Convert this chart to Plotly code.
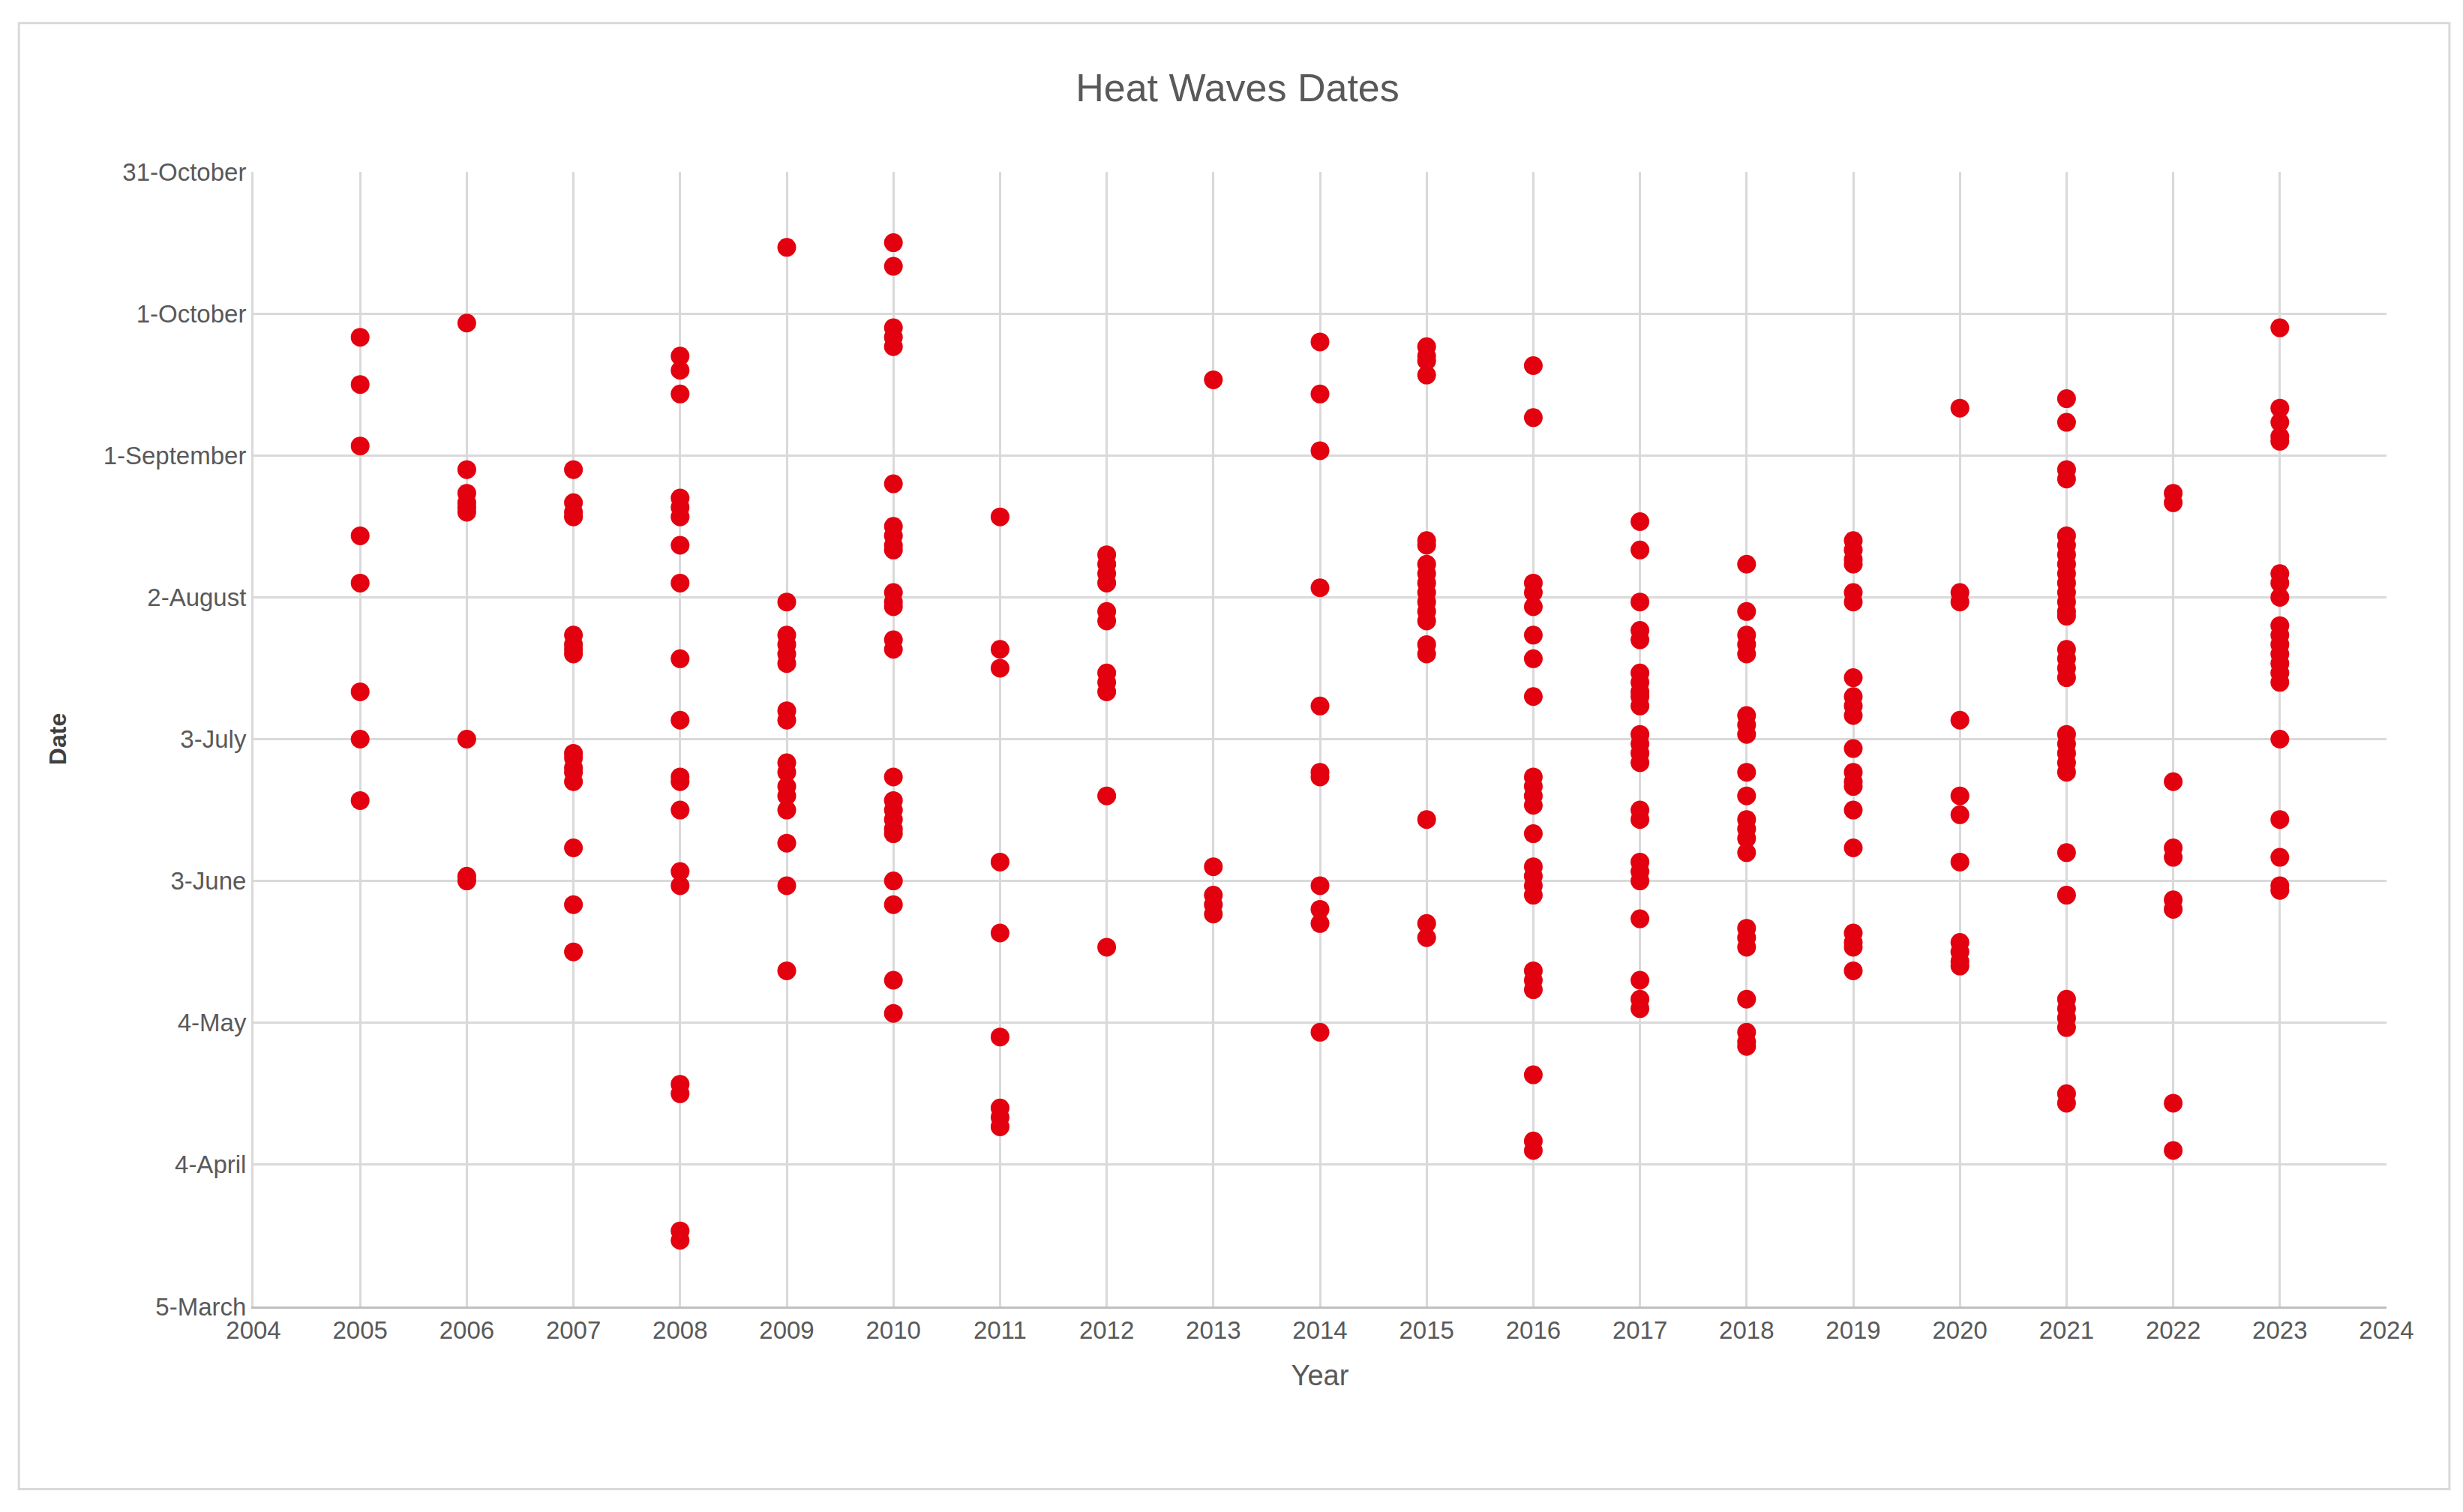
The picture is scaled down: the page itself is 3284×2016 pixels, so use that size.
import plotly.graph_objects as go

# Day-of-year (non-leap) for each heat-wave date, by year
years = list(range(2005, 2024))
d2005 = [269, 259, 246, 227, 217, 194, 184, 171]
d2006 = [272, 241, 236, 234, 233, 232, 184, 155, 154]
d2007 = [241, 234, 232, 231, 206, 204, 203, 202, 181, 180, 178, 177, 175, 161, 149, 139]
d2008 = [265, 262, 257, 235, 233, 231, 225, 217, 201, 188, 176, 175, 169, 156, 153, 111, 109, 80, 78]
d2009 = [288, 213, 206, 204, 202, 200, 190, 188, 179, 177, 174, 172, 169, 162, 153, 135]
d2010 = [289, 284, 271, 269, 267, 238, 229, 227, 225, 224, 215, 213, 212, 205, 203, 176,
         171, 169, 167, 165, 164, 154, 149, 133, 126]
d2011 = [231, 203, 199, 158, 143, 121, 106, 104, 102]
d2012 = [223, 221, 219, 217, 211, 209, 198, 196, 194, 172, 140]
d2013 = [260, 157, 151, 149, 147]
d2014 = [268, 257, 245, 216, 191, 177, 176, 153, 148, 145, 122]
d2015 = [267, 265, 264, 261, 226, 225, 221, 219, 217, 215, 213, 211, 209, 204, 202, 167, 145, 142]
d2016 = [263, 252, 217, 215, 212, 206, 201, 193, 176, 174, 172, 170, 164, 157, 155, 153, 151,
         135, 133, 131, 113, 99, 97]
d2017 = [230, 224, 213, 207, 205, 198, 196, 194, 193, 191, 185, 183, 181, 179, 169, 167,
         158, 156, 154, 146, 133, 129, 127]
d2018 = [221, 211, 206, 204, 202, 189, 187, 185, 177, 172, 167, 165, 163, 160, 144, 142, 140,
         129, 122, 120, 119]
d2019 = [226, 224, 222, 221, 215, 213, 197, 193, 191, 189, 182, 177, 175, 174, 169, 161,
         143, 141, 140, 135]
d2020 = [254, 215, 213, 188, 172, 168, 158, 141, 139, 137, 136]
d2021 = [256, 251, 241, 239, 227, 225, 223, 221, 219, 217, 215, 213, 211, 210, 203, 201, 199,
         197, 185, 183, 181, 179, 177, 160, 151, 129, 127, 125, 123, 109, 107]
d2022 = [236, 234, 175, 161, 159, 150, 148, 107, 97]
d2023 = [271, 254, 251, 248, 247, 219, 217, 214, 208, 206, 204, 202, 200, 198, 196, 184, 167,
         159, 153, 152]
all_days = [d2005, d2006, d2007, d2008, d2009, d2010, d2011, d2012, d2013, d2014, d2015,
            d2016, d2017, d2018, d2019, d2020, d2021, d2022, d2023]

ytick_vals = [64, 94, 124, 154, 184, 214, 244, 274, 304]
ytick_text = ["5-March", "4-April", "4-May", "3-June", "3-July", "2-August",
              "1-September", "1-October", "31-October"]
xtick_vals = list(range(2004, 2025))

xs, ys = [], []
for yr, ds in zip(years, all_days):
    xs += [yr] * len(ds)
    ys += ds

font = "Liberation Sans Narrow, Liberation Sans, Arial"
fig = go.Figure(go.Scatter(
    x=xs, y=ys, mode="markers",
    marker=dict(color="#E3000F", size=25, line=dict(width=0)),
))
fig.update_layout(
    width=3284, height=2016,
    paper_bgcolor="white", plot_bgcolor="white",
    margin=dict(l=330, r=110, t=221, b=282),
    showlegend=False,
    title=dict(text="Heat Waves Dates", x=0.5, xanchor="center", y=0.946, yanchor="middle",
               font=dict(family=font, size=52, color="#595959")),
    font=dict(family=font, color="#595959"),
    shapes=[dict(type="rect", xref="paper", yref="paper", x0=-0.110, x1=1.0295,
                 y0=-0.161, y1=1.131, line=dict(color="#D9D9D9", width=3))],
)
fig.update_xaxes(
    range=[2004, 2024], tickvals=xtick_vals, tickfont=dict(size=33),
    showgrid=True, gridcolor="#D9D9D9", gridwidth=3,
    showline=True, linecolor="#BFBFBF", linewidth=3, zeroline=False,
    title=dict(text="Year", font=dict(size=38, color="#595959"), standoff=30),
)
fig.update_yaxes(
    range=[64, 304], tickvals=ytick_vals, ticktext=ytick_text, tickfont=dict(size=33),
    showgrid=True, gridcolor="#D9D9D9", gridwidth=3,
    showline=True, linecolor="#D9D9D9", linewidth=3, zeroline=False,
    title=dict(text="<b>Date</b>", font=dict(size=32, color="#404040"), standoff=40),
)
fig.write_html("out.html")
